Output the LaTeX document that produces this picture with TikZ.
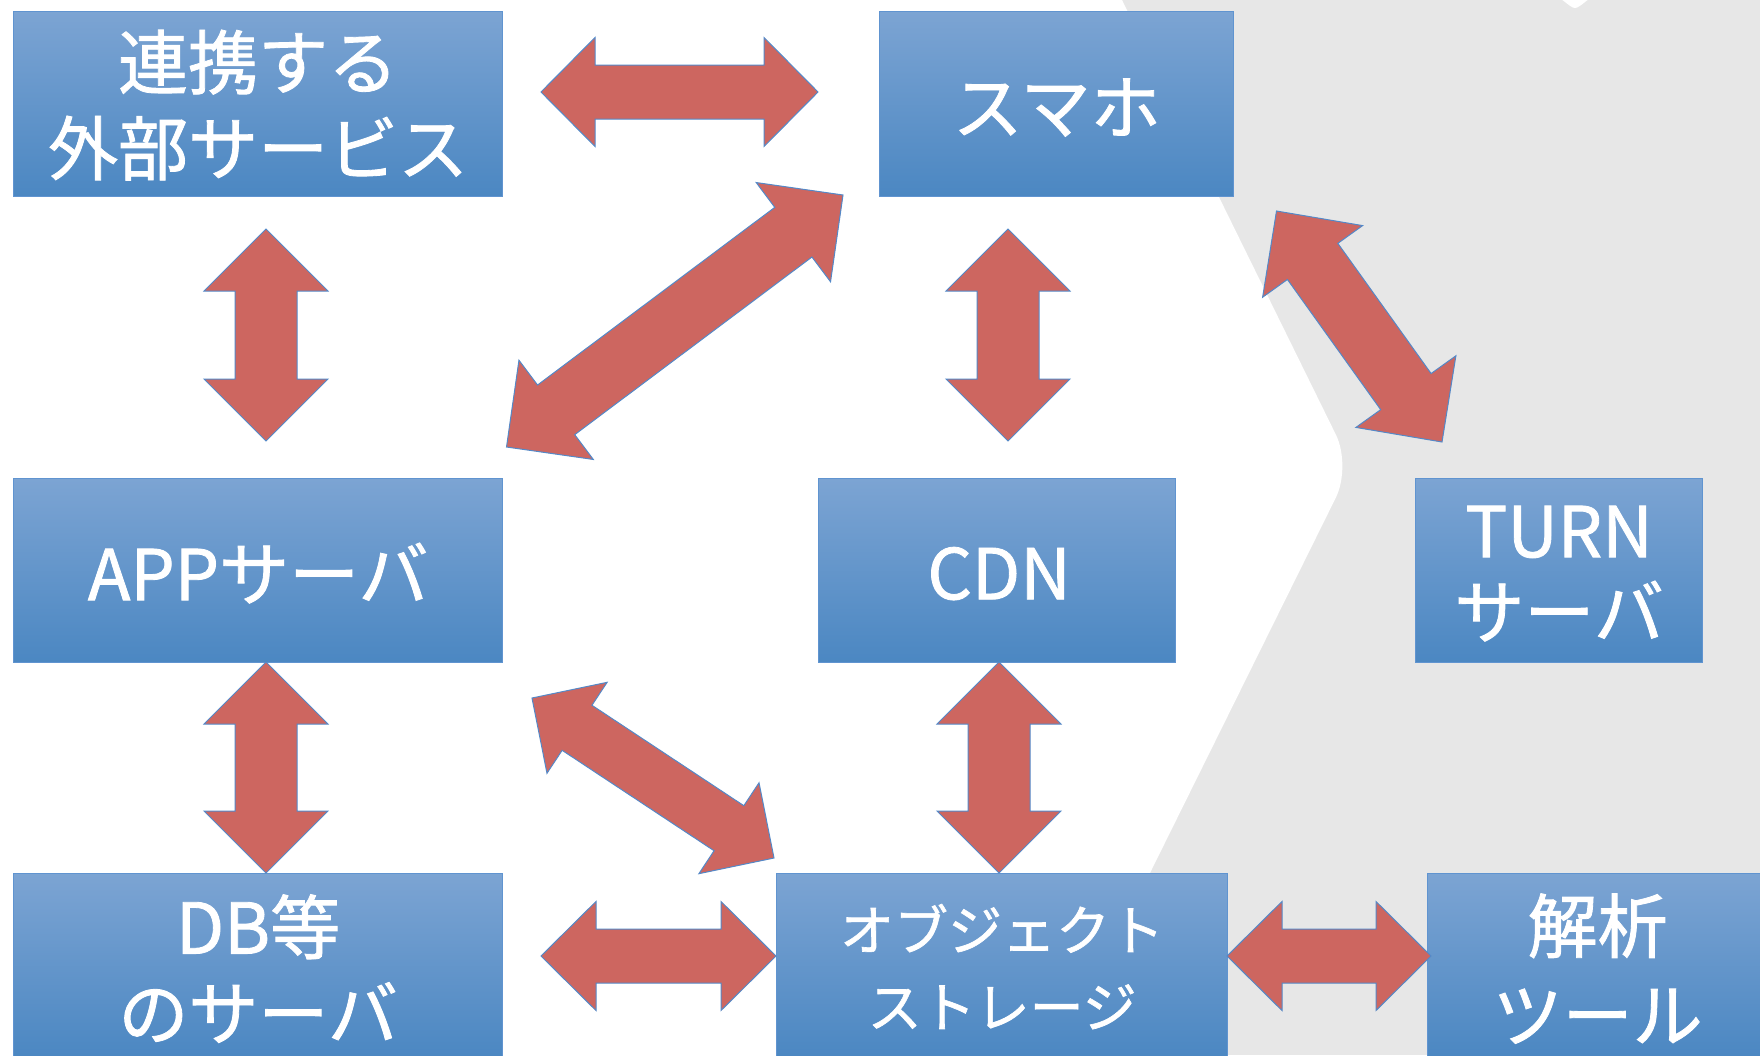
\documentclass[tikz,border=0pt]{standalone}
\usepackage{fontspec}
\setmainfont{Noto Sans CJK JP}
\newfontfamily\lblfont{Noto Sans CJK JP}[FakeBold=1.2]
\usetikzlibrary{calc}
\definecolor{bgGray}{RGB}{231,231,231}
\definecolor{boxTop}{RGB}{124,164,211}
\definecolor{boxBot}{RGB}{75,135,194}
\definecolor{boxLine}{RGB}{96,148,208}
\definecolor{arrFill}{RGB}{205,102,96}
\definecolor{arrLine}{RGB}{84,137,200}
\tikzset{
  box/.style={draw=boxLine, line width=1.2pt, top color=boxTop, bottom color=boxBot,
    anchor=north west, inner sep=0pt},
  lbl/.style={inner sep=0pt, align=center, text=white,
    font=\lblfont\fontsize{70}{86}\selectfont},
  blockarrow/.style={fill=arrFill, draw=arrLine, line width=1pt, line join=miter},
}
% #1 start, #2 end, #3 head length, #4 head half width, #5 shaft half width
\newcommand{\blockarr}[5]{%
  \coordinate (bas) at ($(#1)!#3!(#2)$);
  \coordinate (bae) at ($(#2)!#3!(#1)$);
  \draw[blockarrow] (#1) -- ($(bas)!#4!90:(#2)$) -- ($(bas)!#5!90:(#2)$)
    -- ($(bae)!#5!-90:(#1)$) -- ($(bae)!#4!-90:(#1)$) -- (#2)
    -- ($(bae)!#4!90:(#1)$) -- ($(bae)!#5!90:(#1)$)
    -- ($(bas)!#5!-90:(#2)$) -- ($(bas)!#4!-90:(#2)$) -- cycle;
}
\begin{document}
\begin{tikzpicture}[x=1pt,y=-1pt]
\useasboundingbox (0,0) rectangle (1760,1055);
% background
\fill[bgGray] (0,0) rectangle (1760,1055);
\fill[white] (-10,-100) -- (1072.8,-100) [rounded corners=35pt] -- (1351.4,466.2) -- (988.1,1200) [sharp corners] -- (-10,1200) -- cycle;
\fill[white] (1561,-1) .. controls (1569,5) and (1572,8) .. (1575,8) .. controls (1578,8) and (1581,5) .. (1589,-1) -- cycle;
% boxes
\node[box, minimum width=489pt, minimum height=185pt] (A) at (13,11) {};
\node[box, minimum width=354pt, minimum height=185pt] (B) at (879,11) {};
\node[box, minimum width=489pt, minimum height=184pt] (C) at (13,478) {};
\node[box, minimum width=357pt, minimum height=184pt] (D) at (818,478) {};
\node[box, minimum width=287pt, minimum height=184pt] (E) at (1415,478) {};
\node[box, minimum width=489pt, minimum height=184pt] (F) at (13,873) {};
\node[box, minimum width=451pt, minimum height=184pt] (G) at (776,873) {};
\node[box, minimum width=340pt, minimum height=184pt] (H) at (1427,873) {};
% texts
\node[lbl] (At) at ([yshift=-1pt]A.center) {連携する\\外部サービス};
\node[lbl] (Bt) at ([yshift=-3.5pt]B.center) {スマホ};
\node[lbl] (Ct) at ([yshift=-2.5pt]C.center) {APPサーバ};
\node[lbl] (Dt) at ([yshift=-3pt,xshift=2pt]D.center) {CDN};
\node[lbl, font=\lblfont\fontsize{70}{81}\selectfont] (Et) at ([yshift=-3pt]E.center) {TURN\\サーバ};
\node[lbl] (Ft) at ([yshift=-3pt]F.center) {DB等\\のサーバ};
\node[lbl, font=\lblfont\fontsize{54}{77}\selectfont] (Gt) at ([yshift=-1pt]G.center) {オブジェクト\\ストレージ};
\node[lbl, font=\lblfont\fontsize{70}{89}\selectfont] (Ht) at ([yshift=-3pt]H.center) {解析\\ツール};
% arrow end points
\coordinate (a1s) at (541,92);     \coordinate (a1e) at (818,92);
\coordinate (a2s) at (266,229);    \coordinate (a2e) at (266,441);
\coordinate (a3s) at (266,662);    \coordinate (a3e) at (266,873);
\coordinate (a4s) at (1008,229);   \coordinate (a4e) at (1008,441);
\coordinate (a5s) at (999,662);    \coordinate (a5e) at (999,873);
\coordinate (a6s) at (541,956);    \coordinate (a6e) at (776,956);
\coordinate (a7s) at (1227,956);   \coordinate (a7e) at (1431,956);
\coordinate (a8s) at (506.5,447);  \coordinate (a8e) at (843,195);
\coordinate (a9s) at (532,698);    \coordinate (a9e) at (774,858);
\coordinate (a10s) at (1276.5,211); \coordinate (a10e) at (1442,442);
% arrows
\blockarr{a1s}{a1e}{54pt}{54.5pt}{27pt}
\blockarr{a2s}{a2e}{62pt}{62pt}{31pt}
\blockarr{a3s}{a3e}{62pt}{62pt}{31pt}
\blockarr{a4s}{a4e}{62pt}{62pt}{31pt}
\blockarr{a5s}{a5e}{62pt}{62pt}{31pt}
\blockarr{a6s}{a6e}{55pt}{54.5pt}{27pt}
\blockarr{a7s}{a7e}{55pt}{54.5pt}{27pt}
\blockarr{a8s}{a8e}{62pt}{62pt}{31pt}
\blockarr{a9s}{a9e}{54pt}{54.5pt}{27pt}
\blockarr{a10s}{a10e}{62pt}{61.5pt}{31pt}
\end{tikzpicture}
\end{document}
